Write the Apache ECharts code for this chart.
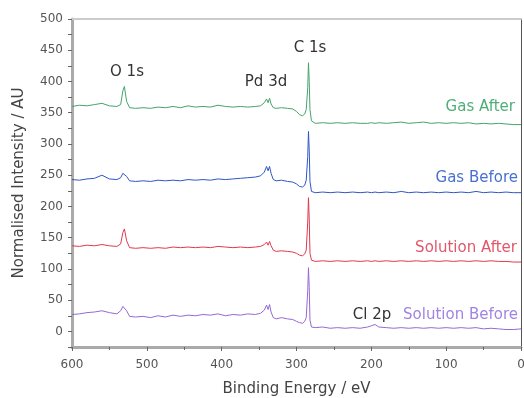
<!DOCTYPE html>
<html>
<head>
<meta charset="utf-8">
<script src="https://cdn.jsdelivr.net/npm/echarts@6/dist/echarts.min.js"></script>
<style>html,body{margin:0;padding:0;background:#fff}#c{width:524px;height:398px}</style>
</head>
<body>
<div id="c"></div>
<script>
var energy = [600,590,580,570,560,550,540,535,532,530,527,523,515,505,495,485,475,465,455,445,435,425,415,405,395,385,375,365,355,348,343,340,338,336,334,331,327,320,312,305,300,296,292,289,287,285,284,283,282,280,275,265,255,245,235,225,215,205,200,195,190,180,170,160,150,140,130,120,110,100,90,80,70,60,50,40,30,20,10,0];
var gasAfter = [360,362,361,363,365,361,360,363,385,392,368,358,357,358,357,359,358,360,358,361,359,360,359,362,360,359,360,359,360,361,366,372,366,373,364,358,357,358,357,356,352,347,345,348,355,390,430,400,355,337,333,334,333,334,333,334,333,333,334,333,334,333,334,335,333,334,335,333,334,333,334,333,334,332,333,332,333,332,331,331];
var gasBefore = [243,242,244,245,250,244,243,246,253,256,248,241,240,241,240,242,241,242,241,243,242,243,242,244,243,244,245,246,247,249,255,264,257,264,253,243,241,242,240,239,236,232,231,234,242,280,320,290,240,224,222,223,222,223,222,223,222,223,222,223,222,223,222,224,222,223,222,223,222,223,222,223,222,224,222,223,222,223,222,222];
var solutionAfter = [137,136,138,137,139,137,136,140,158,164,145,134,133,134,133,134,133,135,134,135,134,135,134,136,135,134,135,134,135,136,139,143,138,144,137,130,128,129,128,127,125,122,121,124,130,175,214,180,125,114,112,113,112,113,112,113,112,113,112,113,112,113,112,113,112,113,112,113,112,113,112,113,112,113,112,113,112,112,111,111];
var solutionBefore = [27,28,30,31,33,30,28,33,40,43,33,24,23,24,22,25,23,26,24,26,25,27,26,28,25,27,26,28,27,29,34,42,35,43,31,22,20,22,20,19,16,14,13,16,22,65,102,70,18,7,6,7,5,6,5,6,5,7,9,11,7,6,5,6,5,6,5,6,5,6,5,6,5,6,4,5,4,3,3,4];
var seriesNames = ['Gas After','Gas Before','Solution After','Solution Before'];
var peakLabels = ['O 1s','Pd 3d','C 1s','Cl 2p'];
var xTicks = [600,500,400,300,200,100,0];
var yTicks = [0,50,100,150,200,250,300,350,400,450,500];

function pairs(vals){ return energy.map(function(e,i){ return [e, vals[i]]; }); }
var colors = ['#45a36a','#2f55c6','#e0384e','#9468d6'];
var textColors = ['#4fae78','#4a6fd2','#e0586a','#a284e2'];
var allVals = [gasAfter, gasBefore, solutionAfter, solutionBefore];

var chart = echarts.init(document.getElementById('c'));
var font = '"DejaVu Sans", sans-serif';
function txt(x, y, s, fill, align){
  return {type: 'text', x: x, y: y, style: {text: s, font: '15px ' + font, fill: fill, align: align || 'center', verticalAlign: 'middle'}};
}
var option = {
  animation: false,
  grid: {left: 72, right: 3, top: 19, bottom: 51, containLabel: false, outerBoundsMode: 'none'},
  xAxis: [{
    type: 'value', inverse: true, min: 0, max: 600, interval: 100,
    name: 'Binding Energy / eV', nameLocation: 'middle', nameGap: 35,
    nameTextStyle: {fontSize: 15, color: '#444', fontFamily: font},
    axisLine: {show: true, onZero: false, lineStyle: {color: '#aaa', width: 3}},
    axisTick: {show: true, length: 4, lineStyle: {color: '#666'}},
    minorTick: {show: true, splitNumber: 2, length: 3, lineStyle: {color: '#666'}},
    axisLabel: {fontSize: 12, color: '#555', margin: 12, fontFamily: font,
      formatter: function(v){ return xTicks.indexOf(v) >= 0 ? String(v) : ''; }},
    splitLine: {show: false}
  }, {
    type: 'value', inverse: true, min: 0, max: 600, position: 'top',
    axisLine: {show: true, onZero: false, lineStyle: {color: '#ccc', width: 2}},
    axisTick: {show: false}, axisLabel: {show: false}, splitLine: {show: false}
  }],
  yAxis: [{
    type: 'value', min: -25, max: 500, interval: 25,
    name: 'Normalised Intensity / AU', nameLocation: 'middle', nameGap: 45,
    nameTextStyle: {fontSize: 15, color: '#444', fontFamily: font},
    axisLine: {show: true, onZero: false, lineStyle: {color: '#aaa', width: 3}},
    axisTick: {show: true, length: 4, lineStyle: {color: '#666'}},
    axisLabel: {fontSize: 12, color: '#555', margin: 9, fontFamily: font,
      formatter: function(v){ return yTicks.indexOf(v) >= 0 ? String(v) : ''; }},
    splitLine: {show: false}
  }, {
    type: 'value', min: -25, max: 500, position: 'right',
    axisLine: {show: true, onZero: false, lineStyle: {color: '#555', width: 1}},
    axisTick: {show: false}, axisLabel: {show: false}, splitLine: {show: false}
  }],
  series: allVals.map(function(v, i){
    return {
      type: 'line', name: seriesNames[i], data: pairs(v), showSymbol: false,
      lineStyle: {color: colors[i], width: 1}, itemStyle: {color: colors[i]}
    };
  }),
  graphic: [
    txt(127, 72, peakLabels[0], '#333'),
    txt(266, 82, peakLabels[1], '#333'),
    txt(310, 48, peakLabels[2], '#333'),
    txt(372, 315, peakLabels[3], '#333'),
    txt(515, 107, seriesNames[0], textColors[0], 'right'),
    txt(518, 178, seriesNames[1], textColors[1], 'right'),
    txt(517, 248, seriesNames[2], textColors[2], 'right'),
    txt(518, 315, seriesNames[3], textColors[3], 'right')
  ]
};
chart.setOption(option);
</script>
</body>
</html>
